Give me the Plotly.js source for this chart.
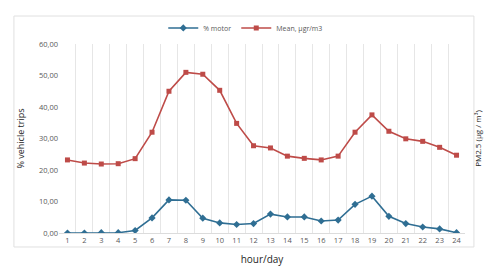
<!DOCTYPE html>
<html>
<head>
<meta charset="utf-8">
<script src="https://cdn.plot.ly/plotly-3.0.1.min.js"></script>
<style>html,body{margin:0;padding:0;background:#fff;}#chart{width:488px;height:268px;}</style>
</head>
<body>
<div id="chart"></div>
<script>
var hours = [1,2,3,4,5,6,7,8,9,10,11,12,13,14,15,16,17,18,19,20,21,22,23,24];
var motorPct = [0.0,0.0,0.1,0.1,0.8,4.8,10.5,10.4,4.7,3.2,2.7,3.0,6.0,5.1,5.1,3.8,4.1,9.1,11.7,5.3,3.0,1.9,1.3,0.1];
var pmMean = [23.2,22.2,21.9,22.0,23.6,32.0,45.0,51.0,50.4,45.3,34.8,27.7,27.0,24.4,23.7,23.2,24.4,32.0,37.5,32.3,29.9,29.1,27.2,24.7];
var seriesNames = ['% motor', 'Mean, µgr/m3'];
var yTicks = [0,10,20,30,40,50,60];

var fontFam = '"Open Sans", "Liberation Sans", sans-serif';
var traces = [
  {x: hours, y: motorPct, name: seriesNames[0], type: 'scatter', mode: 'lines+markers',
   line: {color: '#2f6e93', width: 1.6}, marker: {symbol: 'diamond', size: 5.5, color: '#2f6e93'}},
  {x: hours, y: pmMean, name: seriesNames[1], type: 'scatter', mode: 'lines+markers',
   line: {color: '#be4b48', width: 1.6}, marker: {symbol: 'square', size: 5, color: '#be4b48'}}
];
var layout = {
  width: 488, height: 268,
  margin: {l: 59, r: 23, t: 44, b: 35},
  paper_bgcolor: '#fff', plot_bgcolor: '#fff',
  separators: ',.',
  font: {family: fontFam, size: 8, color: '#595959'},
  showlegend: true,
  legend: {orientation: 'h', x: 0.46, xanchor: 'center', y: 1.085, yanchor: 'middle',
           bgcolor: 'rgba(0,0,0,0)',
           font: {size: 7, color: '#595959'}, itemwidth: 30, tracegroupgap: 0},
  xaxis: {range: [0.5, 24.5], tickmode: 'array', tickvals: hours, ticktext: hours.map(String),
          showgrid: false, zeroline: false, showline: true, linecolor: '#dcdcdc', ticks: '',
          tickfont: {size: 7.5, color: '#595959'},
          minor: {tick0: 0.5, dtick: 1, showgrid: true, gridcolor: '#e6e6e6', gridwidth: 1, ticks: ''},
          title: {text: 'hour/day', font: {size: 10, color: '#262626'}, standoff: 11}},
  yaxis: {range: [0, 60], tickmode: 'array', tickvals: yTicks, tickformat: '.2f',
          showgrid: false, zeroline: false, showline: false, ticks: '',
          tickfont: {size: 7.5, color: '#595959'},
          title: {text: '% vehicle trips', font: {size: 9, color: '#262626'}, standoff: 12}},
  yaxis2: {range: [0, 60], overlaying: 'y', side: 'right', showticklabels: false,
           showgrid: false, zeroline: false, showline: false, ticks: '',
           title: {text: 'PM2.5 (µg / m³)', font: {size: 8, color: '#262626'}, standoff: 10}},
  shapes: [{type: 'rect', xref: 'paper', yref: 'paper', x0: -0.111, x1: 1.022, y0: -0.074, y1: 1.148,
            line: {color: '#e0e0e0', width: 1}, fillcolor: 'rgba(0,0,0,0)', layer: 'below'}]
};
traces.push({x: [hours[0]], y: [null], yaxis: 'y2', showlegend: false, hoverinfo: 'skip', type: 'scatter', mode: 'markers'});
Plotly.newPlot('chart', traces, layout, {displayModeBar: false, staticPlot: true});
</script>
</body>
</html>
